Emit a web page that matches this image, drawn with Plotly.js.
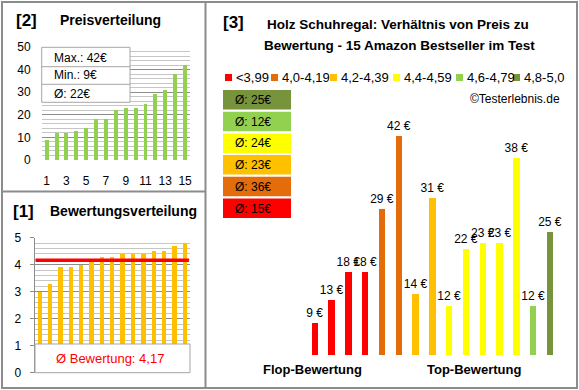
<!DOCTYPE html>
<html><head><meta charset="utf-8">
<script src="https://cdn.plot.ly/plotly-3.0.1.min.js"></script>
<style>html,body{margin:0;padding:0;background:#fff}#chart{width:579px;height:390px}</style>
</head><body><div id="chart"></div>
<script>
// ---------- data ----------
const rankIndex = [1,2,3,4,5,6,7,8,9,10,11,12,13,14,15];
const sortedPrices = [9,12,12,13,14,18,18,22,23,23,25,29,31,38,42];
const sortedRatings = [3.0,3.3,3.9,3.9,4.0,4.1,4.3,4.3,4.4,4.4,4.4,4.5,4.5,4.7,4.8];
const productPrices = [9,13,18,18,29,42,14,31,12,22,23,23,38,12,25];
const productGroup = [0,0,0,0,1,1,2,2,3,3,3,3,3,4,5];
const groupLabels = ['<3,99','4,0-4,19','4,2-4,39','4,4-4,59','4,6-4,79','4,8-5,0'];
const groupColors = ['#FF0000','#E46C0A','#FFC000','#FFFF00','#92D050','#77933C'];
const priceTickVals = [1,3,5,7,9,11,13,15];

// ---------- helpers ----------
const W = 579, H = 390;
const px = x => x / W;
const py = y => 1 - y / H;
const FONT = 'Liberation Sans, Arial, sans-serif';
const fmtDE = v => v.toFixed(2).replace('.', ',');

const maxP = Math.max(...sortedPrices), minP = Math.min(...sortedPrices);
const avgP = Math.round(sortedPrices.reduce((a,b)=>a+b,0)/sortedPrices.length);
const avgR = sortedRatings.reduce((a,b)=>a+b,0)/sortedRatings.length;
const groupAvg = groupLabels.map((_, g) => {
  const v = productPrices.filter((p, i) => productGroup[i] === g);
  return Math.round(v.reduce((a,b)=>a+b,0)/v.length);
});

// ---------- traces ----------
const traces = [
  {type:'bar', x:rankIndex, y:sortedPrices, xaxis:'x', yaxis:'y',
   marker:{color:'#92D050'}, width:0.4, hoverinfo:'skip'},
  {type:'bar', x:rankIndex, y:sortedRatings, xaxis:'x2', yaxis:'y2',
   marker:{color:'#FFC000'}, width:0.42, hoverinfo:'skip'},
  {type:'bar', x:rankIndex, y:productPrices, xaxis:'x3', yaxis:'y3',
   marker:{color:productGroup.map(g => groupColors[g])}, width:0.39,
   text:productPrices.map(p => p + ' €'), textposition:'outside', cliponaxis:false,
   constraintext:'none', textfont:{family:FONT, size:12, color:'#000'}, hoverinfo:'skip'}
];

// ---------- shapes & annotations ----------
const shapes = [];
const ann = [];
const frameCol = '#8c8c8c';
shapes.push({type:'rect', xref:'paper', yref:'paper', x0:px(2), x1:px(577), y0:py(388), y1:py(2), line:{color:frameCol, width:2}});
shapes.push({type:'line', xref:'paper', yref:'paper', x0:px(205.5), x1:px(205.5), y0:py(388), y1:py(2), line:{color:frameCol, width:2}});
shapes.push({type:'line', xref:'paper', yref:'paper', x0:px(2), x1:px(205.5), y0:py(191.5), y1:py(191.5), line:{color:frameCol, width:2}});

function txt(x, y, text, size, opts) {
  ann.push(Object.assign({xref:'paper', yref:'paper', x:px(x), y:py(y), text:text, showarrow:false,
    xanchor:'left', yanchor:'middle', font:{family:FONT, size:size, color:'#000'}}, opts || {}));
}

// Panel [2]
txt(26, 20, '<b>[2]</b>', 17, {xanchor:'center'});
txt(58, 20, '<b>Preisverteilung</b>', 14);
shapes.push({type:'rect', xref:'paper', yref:'paper', layer:'above', x0:px(41.7), x1:px(130), y0:py(102.3), y1:py(47.3), fillcolor:'#fff', line:{color:'#a6a6a6', width:1}});
shapes.push({type:'line', xref:'paper', yref:'paper', layer:'above', x0:px(41.7), x1:px(130), y0:py(66.7), y1:py(66.7), line:{color:'#a6a6a6', width:1}});
shapes.push({type:'line', xref:'paper', yref:'paper', layer:'above', x0:px(41.7), x1:px(130), y0:py(84.3), y1:py(84.3), line:{color:'#a6a6a6', width:1}});
txt(52, 57.5, 'Max.: ' + maxP + '€', 12);
txt(52, 75.5, 'Min.: ' + minP + '€', 12);
txt(52, 93.5, 'Ø: ' + avgP + '€', 12);

// Panel [1]
txt(23, 211, '<b>[1]</b>', 17, {xanchor:'center'});
txt(48, 211, '<b>Bewertungsverteilung</b>', 14);
shapes.push({type:'line', xref:'x2', yref:'y2', layer:'above', x0:0.6, x1:15.4, y0:avgR, y1:avgR, line:{color:'#FF0000', width:3.5}});
shapes.push({type:'rect', xref:'paper', yref:'paper', layer:'above', x0:px(35), x1:px(190), y0:py(372.7), y1:py(344), fillcolor:'#fff', line:{color:'#a6a6a6', width:1}});
txt(110, 358.5, 'Ø Bewertung: ' + fmtDE(avgR), 13, {xanchor:'center', font:{family:FONT, size:13, color:'#FF0000'}});

// Panel [3]
txt(233, 22, '<b>[3]</b>', 17, {xanchor:'center'});
txt(398, 25, '<b>Holz Schuhregal: Verhältnis von Preis zu</b>', 13.5, {xanchor:'center'});
txt(399, 45, '<b>Bewertung - 15 Amazon Bestseller im Test</b>', 13.5, {xanchor:'center'});
const legSq = [225, 271, 330, 393, 456, 513];
groupLabels.forEach((lab, g) => {
  shapes.push({type:'rect', xref:'paper', yref:'paper', x0:px(legSq[g]), x1:px(legSq[g]+7), y0:py(81), y1:py(74), fillcolor:groupColors[g], line:{width:0}});
  txt(legSq[g]+9, 77.5, lab, 13);
});
txt(562, 99, '©Testerlebnis.de', 12, {xanchor:'right'});
for (let k = 0; k < groupLabels.length; k++) {
  const g = groupLabels.length - 1 - k;
  const top = 90 + k * 21.7;
  shapes.push({type:'rect', xref:'paper', yref:'paper', x0:px(223), x1:px(291), y0:py(top+19.5), y1:py(top), fillcolor:groupColors[g], line:{width:0}});
  txt(233, top + 10, 'Ø: ' + groupAvg[g] + '€', 12);
}
txt(312, 369, '<b>Flop-Bewertung</b>', 13, {xanchor:'center'});
txt(474, 369, '<b>Top-Bewertung</b>', 13, {xanchor:'center'});

// ---------- layout ----------
const layout = {
  width:W, height:H, margin:{l:0, r:0, t:0, b:0}, paper_bgcolor:'#fff', plot_bgcolor:'rgba(0,0,0,0)',
  showlegend:false, hovermode:false, font:{family:FONT, size:12, color:'#000'}, bargap:0,
  xaxis:{domain:[px(41.7), px(190)], range:[0.5,15.5], anchor:'y', tickmode:'array', tickvals:priceTickVals,
    showgrid:false, zeroline:false, showline:false, ticks:'', ticklabelstandoff:12, tickfont:{size:12, color:'#000'}, fixedrange:true},
  yaxis:{domain:[py(160), py(47)], range:[0,50], anchor:'x', dtick:10, gridcolor:'#8c8c8c', gridwidth:1,
    minor:{dtick:2, showgrid:true, gridcolor:'#c6c6c6', gridwidth:1},
    zeroline:false, showline:false, ticks:'', ticklabelstandoff:10, tickfont:{size:12, color:'#000'}, fixedrange:true},
  xaxis2:{domain:[px(34.5), px(190)], range:[0.5,15.5], anchor:'y2', showticklabels:false, showgrid:false, zeroline:false, ticks:'', fixedrange:true},
  yaxis2:{domain:[py(372.7), py(237.7)], range:[0,5], anchor:'x2', dtick:1, gridcolor:'#8c8c8c',
    minor:{dtick:0.2, showgrid:true, gridcolor:'#c6c6c6'},
    zeroline:false, showline:true, linecolor:'#8c8c8c', ticks:'outside', ticklen:4, tickcolor:'#8c8c8c',
    ticklabelstandoff:6, tickfont:{size:12, color:'#000'}, fixedrange:true},
  xaxis3:{domain:[px(306.4), px(558.4)], range:[0.5,15.5], anchor:'y3', visible:false, fixedrange:true},
  yaxis3:{domain:[py(355), py(118.55)], range:[3.3,45], anchor:'x3', visible:false, fixedrange:true},
  shapes:shapes, annotations:ann
};

Plotly.newPlot('chart', traces, layout, {displayModeBar:false, staticPlot:true});
</script></body></html>
